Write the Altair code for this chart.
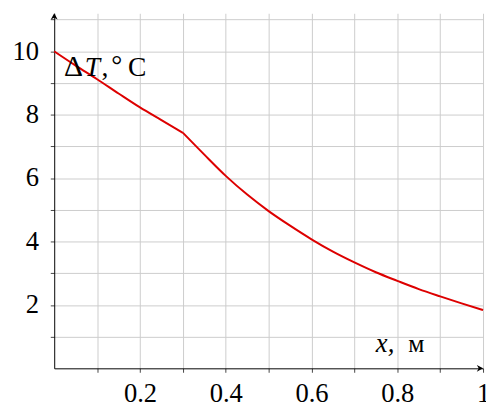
import altair as alt
import pandas as pd

# ---- data ----
x_seg1 = [0.0, 0.05, 0.1, 0.15, 0.2, 0.25, 0.3]
t_seg1 = [10.0, 9.55, 9.12, 8.67, 8.23, 7.83, 7.43]

x_seg2 = [0.3, 0.35, 0.4, 0.45, 0.5, 0.55, 0.6, 0.65, 0.7, 0.75, 0.8, 0.85, 0.9, 0.95, 1.0]
t_seg2 = [7.43, 6.74, 6.07, 5.48, 4.96, 4.50, 4.07, 3.68, 3.34, 3.03, 2.76, 2.50, 2.27, 2.05, 1.84]

x_ticks = [0.1, 0.2, 0.3, 0.4, 0.5, 0.6, 0.7, 0.8, 0.9, 1.0]
x_label_codes = [2, 4, 6, 8, 10]          # tenths that carry a label
x_label_text = ["0.2", "0.4", "0.6", "0.8", "1"]

y_ticks = [1, 2, 3, 4, 5, 6, 7, 8, 9, 10, 11]
y_label_codes = [2, 4, 6, 8, 10]
y_label_text = ["2", "4", "6", "8", "10"]

x_domain = [0, 1]
y_domain = [0, 11.2]

FONT = "Liberation Serif"
RED = "#dd0000"

df = pd.DataFrame({
    "x": x_seg1 + x_seg2,
    "t": t_seg1 + t_seg2,
    "seg": ["a"] * len(x_seg1) + ["b"] * len(x_seg2),
})

x_label_expr = (
    f"indexof({x_label_codes}, round(datum.value*10)) >= 0 ? "
    f"{x_label_text}[indexof({x_label_codes}, round(datum.value*10))] : ''"
)
y_label_expr = (
    f"indexof({y_label_codes}, round(datum.value)) >= 0 ? "
    f"{y_label_text}[indexof({y_label_codes}, round(datum.value))] : ''"
)

xscale = alt.Scale(domain=x_domain, nice=False, zero=False)
yscale = alt.Scale(domain=y_domain, nice=False, zero=False)
xaxis = alt.Axis(values=x_ticks, labelExpr=x_label_expr, grid=True,
                 tickSize=4, labelPadding=9, labelFlush=False, labelOverlap=False)
yaxis = alt.Axis(values=y_ticks, labelExpr=y_label_expr, grid=True,
                 tickSize=4, labelPadding=12, labelFlush=False, labelOverlap=False)


def xenc():
    return alt.X("x:Q", scale=xscale, title=None, axis=xaxis)


def yenc():
    return alt.Y("t:Q", scale=yscale, title=None, axis=yaxis)


line = alt.Chart(df).mark_line(color=RED, strokeWidth=2, interpolate="monotone").encode(
    x=xenc(), y=yenc(), detail="seg:N",
)

# arrow heads at axis ends
arrow_x = alt.Chart(pd.DataFrame({"x": [x_domain[1]], "t": [0]})).mark_point(
    shape="M0,0 L-1,-0.55 L-0.7,0 L-1,0.55 Z", filled=True, color="black",
    size=160, opacity=1, strokeWidth=0
).encode(x=xenc(), y=yenc())

arrow_y = alt.Chart(pd.DataFrame({"x": [0], "t": [y_domain[1]]})).mark_point(
    shape="M0,0 L-0.55,1 L0,0.7 L0.55,1 Z", filled=True, color="black",
    size=160, opacity=1, strokeWidth=0
).encode(x=xenc(), y=yenc())


def txt(s, px, py, italic=False, size=28):
    return alt.Chart(pd.DataFrame({"s": [s]})).mark_text(
        font=FONT, fontSize=size, align="left", baseline="alphabetic",
        color="black", fontStyle="italic" if italic else "normal"
    ).encode(x=alt.value(px), y=alt.value(py), text="s:N")


labels = [
    txt("Δ", 10, 64, size=30),
    txt("T", 31, 64, italic=True),
    txt(",", 48, 64),
    txt("°", 58, 62),
    txt("C", 75, 64),
    txt("x,", 327, 344, italic=True, size=27),
    txt("м", 360, 344, size=26),
]

chart = alt.layer(line, arrow_x, arrow_y, *labels).properties(
    width=436, height=361,
    autosize="none",
    padding={"left": 47, "top": 2, "right": 3, "bottom": 39},
).configure_view(stroke=None).configure_axis(
    domainColor="black", domainWidth=1,
    tickColor="#444444", tickWidth=1,
    gridColor="#cccccc", gridWidth=1,
    labelFont=FONT, labelFontSize=27, labelColor="black",
)

chart.save("out.html", embed_options={"renderer": "svg", "actions": False})
